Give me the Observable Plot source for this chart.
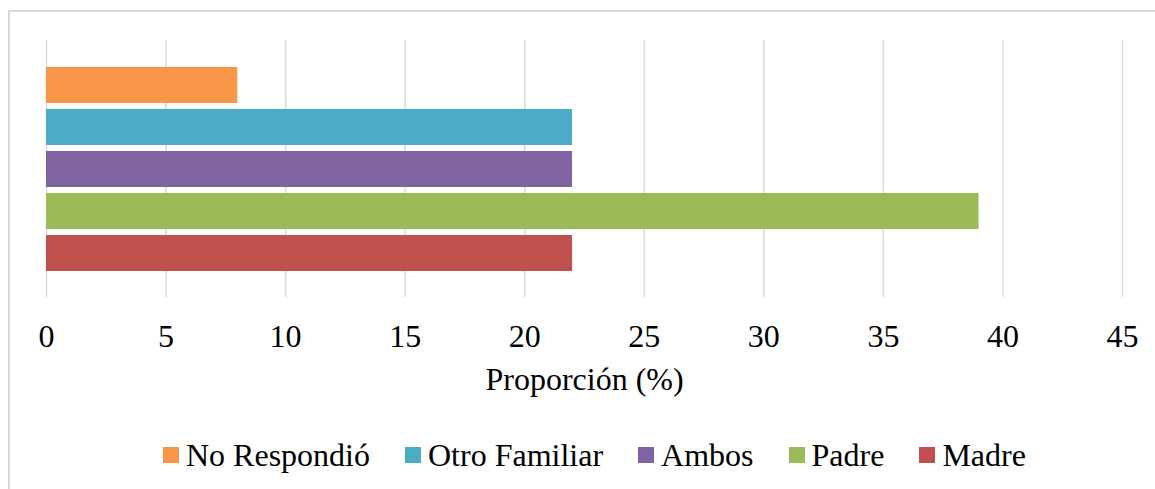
<!DOCTYPE html>
<html><head><meta charset="utf-8">
<script src="https://cdn.jsdelivr.net/npm/d3@7"></script>
<script src="https://cdn.jsdelivr.net/npm/@observablehq/plot@0.6"></script>
<style>
body{margin:0;background:#fff;font-family:'Liberation Serif',serif;}
#wrap{position:relative;width:1155px;height:489px;overflow:hidden;background:#fff}
#frame{position:absolute;left:8px;top:10px;width:1300px;height:600px;border-left:2px solid #d9d9d9;border-top:2px solid #d9d9d9;box-sizing:border-box}
#chart{position:absolute;left:0;top:0}
#legend{position:absolute;left:163px;top:439px;height:32px;display:flex;align-items:center;font-family:'Liberation Serif',serif;font-size:32px;line-height:1;color:#000;white-space:nowrap}
.item{display:flex;align-items:center;margin-right:35px}
.sw{width:16px;height:16px;margin-right:7px}
#chart svg text{font-family:'Liberation Serif',serif}
</style>
</head><body>
<div id="wrap"><div id="frame"></div><div id="chart"></div><div id="legend"></div></div>
<script>
const categories = ["No Respondió", "Otro Familiar", "Ambos", "Padre", "Madre"];
const values = [8, 22, 22, 39, 22];
const colors = ["#F79646", "#4BACC6", "#8064A2", "#9BBB59", "#C0504D"];
const xTicks = [0, 5, 10, 15, 20, 25, 30, 35, 40, 45];
const axisTitle = "Proporción (%)";

const data = categories.map((c, i) => ({category: c, value: values[i]}));

const plot = Plot.plot({
  width: 1155,
  height: 400,
  marginLeft: 46,
  marginRight: 33,
  marginTop: 40,
  marginBottom: 103,
  style: {fontFamily: "'Liberation Serif', serif", fontSize: "32px", color: "#000", background: "transparent", overflow: "visible"},
  x: {domain: [0, 45], ticks: xTicks, label: axisTitle, labelArrow: "none", labelAnchor: "center", labelOffset: 92, tickSize: 0, tickPadding: 27, tickFormat: d => String(d)},
  y: {domain: categories, paddingInner: 6 / 42, paddingOuter: 0.63, axis: null},
  color: {domain: categories, range: colors},
  marks: [
    Plot.ruleX(xTicks, {stroke: "#d9d9d9", strokeWidth: 1.5, strokeOpacity: 1}),
    Plot.barX(data, {x: "value", y: "category", fill: "category"})
  ]
});
document.getElementById("chart").appendChild(plot);

const legend = document.getElementById("legend");
categories.forEach((c, i) => {
  const it = document.createElement("div");
  it.className = "item";
  const sw = document.createElement("span");
  sw.className = "sw";
  sw.style.background = colors[i];
  const tx = document.createElement("span");
  tx.textContent = c;
  it.appendChild(sw); it.appendChild(tx);
  legend.appendChild(it);
});
</script>
</body></html>
